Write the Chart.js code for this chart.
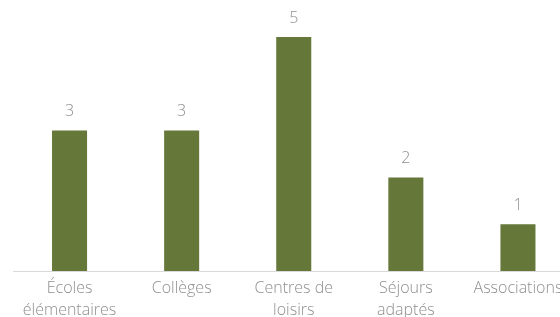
<!DOCTYPE html>
<html><head><meta charset="utf-8">
<script src="https://cdn.jsdelivr.net/npm/chart.js@4"></script>
<style>
html,body{margin:0;padding:0;overflow:hidden;background:#fff;width:560px;height:317px}
#wrap{width:574px;height:317px;position:relative}
</style></head><body>
<div id="wrap"><canvas id="c"></canvas></div>
<script>
const categories = [['Écoles','élémentaires'], 'Collèges', ['Centres de','loisirs'], ['Séjours','adaptés'], 'Associations'];
const values = [3, 3, 5, 2, 1];

const FONT = '"Open Sans", Lato, "DejaVu Sans", sans-serif';

const labelPlugin = {
  id: 'vals',
  afterDatasetsDraw(chart) {
    const ctx = chart.ctx;
    const meta = chart.getDatasetMeta(0);
    ctx.save();
    ctx.font = '300 16px ' + FONT;
    ctx.fillStyle = '#8f8f8f';
    ctx.textAlign = 'center';
    ctx.textBaseline = 'middle';
    meta.data.forEach((bar, i) => {
      ctx.fillText(String(values[i]), bar.x, bar.y - 19);
    });
    ctx.restore();
  }
};

new Chart(document.getElementById('c'), {
  type: 'bar',
  data: { labels: categories, datasets: [{ data: values, backgroundColor: '#66773a', categoryPercentage: 1, barPercentage: 0.3125 }] },
  options: {
    responsive: true, maintainAspectRatio: false, animation: false,
    layout: { padding: { top: 37, left: 13.5, right: 0, bottom: 0 } },
    plugins: { legend: { display: false }, tooltip: { enabled: false } },
    scales: {
      x: {
        grid: { display: false, drawTicks: false },
        border: { display: true, color: '#d9d9d9', width: 1 },
        ticks: { color: '#8f8f8f', font: { family: FONT, size: 16, weight: '300', lineHeight: 1.35 }, padding: 7, maxRotation: 0, autoSkip: false },
        afterFit(s) { s.height = 46; }
      },
      y: { display: false, min: 0, max: 5 }
    }
  },
  plugins: [labelPlugin]
});
</script>
</body></html>
